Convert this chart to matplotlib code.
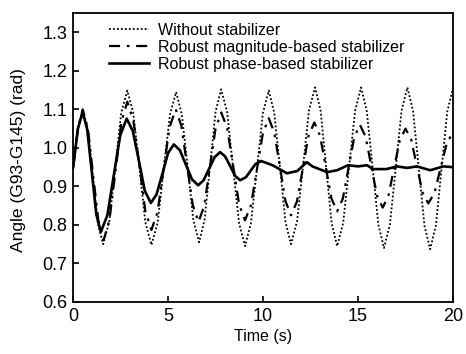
import matplotlib
matplotlib.use('Agg')
import matplotlib.pyplot as plt

plt.rcParams['font.family'] = ['Liberation Sans', 'DejaVu Sans']

# without stabilizer (dotted)
t_no = [0.0, 0.25, 0.5, 0.77, 1.04, 1.31, 1.58, 1.90, 2.22, 2.53, 2.85,
        3.17, 3.49, 3.80, 4.12, 4.45, 4.77, 5.10, 5.42, 5.72, 6.03, 6.33, 6.63,
        6.92, 7.21, 7.50, 7.79, 8.11, 8.42, 8.74, 9.05, 9.36, 9.68, 9.99, 10.3,
        10.59, 10.89, 11.18, 11.47, 11.79, 12.11, 12.42, 12.74, 13.03, 13.32, 13.61, 13.9,
        14.22, 14.53, 14.85, 15.16, 15.46, 15.77, 16.07, 16.37, 16.68, 16.99, 17.29, 17.6,
        17.9, 18.2, 18.5, 18.8, 19.1, 19.4, 19.7, 20.0]
a_no = [0.95, 1.05, 1.10, 1.049, 0.925, 0.801, 0.75, 0.808, 0.95, 1.091, 1.149,
        1.090, 0.949, 0.807, 0.748, 0.806, 0.947, 1.087, 1.145, 1.088, 0.95, 0.812, 0.755,
        0.813, 0.954, 1.094, 1.152, 1.093, 0.949, 0.804, 0.745, 0.804, 0.947, 1.09, 1.149,
        1.091, 0.95, 0.808, 0.75, 0.809, 0.954, 1.098, 1.157, 1.097, 0.951, 0.805, 0.745,
        0.805, 0.951, 1.097, 1.157, 1.096, 0.949, 0.801, 0.74, 0.801, 0.949, 1.096, 1.157,
        1.096, 0.947, 0.798, 0.737, 0.798, 0.946, 1.094, 1.155]

# robust magnitude-based stabilizer (dash-dot)
t_mag = [0.0, 0.25, 0.5, 0.78, 1.05, 1.33, 1.6, 1.91, 2.23, 2.54, 2.85,
         3.17, 3.49, 3.80, 4.12, 4.44, 4.76, 5.08, 5.4, 5.7, 6.0, 6.3, 6.6,
         6.9, 7.2, 7.5, 7.8, 8.11, 8.43, 8.74, 9.05, 9.36, 9.68, 9.99, 10.3,
         10.59, 10.89, 11.18, 11.47, 11.78, 12.09, 12.39, 12.7, 13.0, 13.3, 13.6, 13.9,
         14.2, 14.5, 14.8, 15.1, 15.4, 15.7, 16.0, 16.3, 16.6, 16.9, 17.2, 17.5,
         17.8, 18.1, 18.4, 18.7, 19.03, 19.35, 19.68, 20.0]
a_mag = [0.95, 1.05, 1.10, 1.05, 0.93, 0.81, 0.76, 0.813, 0.94, 1.067, 1.12,
         1.071, 0.954, 0.836, 0.787, 0.833, 0.944, 1.054, 1.10, 1.057, 0.954, 0.851, 0.808,
         0.849, 0.95, 1.051, 1.092, 1.051, 0.952, 0.853, 0.812, 0.851, 0.945, 1.038, 1.077,
         1.04, 0.951, 0.862, 0.825, 0.86, 0.946, 1.031, 1.066, 1.032, 0.951, 0.869, 0.835,
         0.868, 0.948, 1.027, 1.06, 1.029, 0.953, 0.876, 0.845, 0.875, 0.948, 1.02, 1.05,
         1.022, 0.953, 0.884, 0.856, 0.883, 0.948, 1.013, 1.04]

# robust phase-based stabilizer (solid)
t_ph = [0.0, 0.25, 0.5, 0.74, 0.98, 1.22, 1.46, 1.8, 2.14, 2.48, 2.82,
        3.14, 3.46, 3.77, 4.09, 4.39, 4.7, 5.0, 5.3, 5.62, 5.94, 6.26, 6.58,
        6.87, 7.16, 7.45, 7.74, 8.0, 8.27, 8.53, 8.8, 9.1, 9.35, 9.6, 9.9,
        10.5, 11.26, 11.8, 12.3, 12.6, 13.37, 13.9, 14.47, 15.0, 15.47, 15.8,
        16.5, 17.05, 17.6, 18.1, 18.8, 19.5, 20.0]
a_ph = [0.95, 1.05, 1.093, 1.048, 0.938, 0.827, 0.782, 0.825, 0.929, 1.033, 1.076,
        1.044, 0.967, 0.889, 0.857, 0.879, 0.933, 0.987, 1.009, 0.994, 0.956, 0.918, 0.903,
        0.916, 0.946, 0.976, 0.989, 0.978, 0.953, 0.927, 0.916, 0.924, 0.941, 0.958, 0.966,
        0.955, 0.934, 0.94, 0.963, 0.952, 0.937, 0.942, 0.955, 0.952, 0.955, 0.945,
        0.945, 0.952, 0.948, 0.952, 0.942, 0.952, 0.95]

fig = plt.figure(figsize=(4.66, 3.54), dpi=100)
ax = fig.add_axes([0.157, 0.147, 0.815, 0.816])

ax.plot(t_no, a_no, color='k', linestyle=(0, (1, 1.2)), linewidth=1.3, label='Without stabilizer')
ax.plot(t_mag, a_mag, color='k', linestyle=(0, (5, 3, 1.2, 3)), linewidth=1.6,
        label='Robust magnitude-based stabilizer')
ax.plot(t_ph, a_ph, color='k', linestyle='-', linewidth=1.9, label='Robust phase-based stabilizer')

ax.set_xlim(0, 20)
ax.set_ylim(0.6, 1.35)
ax.set_xticks([0, 5, 10, 15, 20])
ax.set_yticks([0.6, 0.7, 0.8, 0.9, 1.0, 1.1, 1.2, 1.3])
ax.set_yticklabels(['0.6', '0.7', '0.8', '0.9', '1.0', '1.1', '1.2', '1.3'])
ax.tick_params(direction='in', length=4, width=1.2, labelsize=13, pad=4)
for s in ax.spines.values():
    s.set_linewidth(1.3)

ax.set_xlabel('Time (s)', fontsize=11.5, labelpad=3)
ax.set_ylabel('Angle (G93-G145) (rad)', fontsize=12.5)
ax.yaxis.set_label_coords(-0.125, 0.49)

ax.legend(loc='upper left', bbox_to_anchor=(0.065, 1.005), frameon=False, fontsize=11.5,
          handlelength=2.5, handletextpad=0.55, labelspacing=0.12, borderaxespad=0.3)

plt.savefig('out.png', dpi=100)
